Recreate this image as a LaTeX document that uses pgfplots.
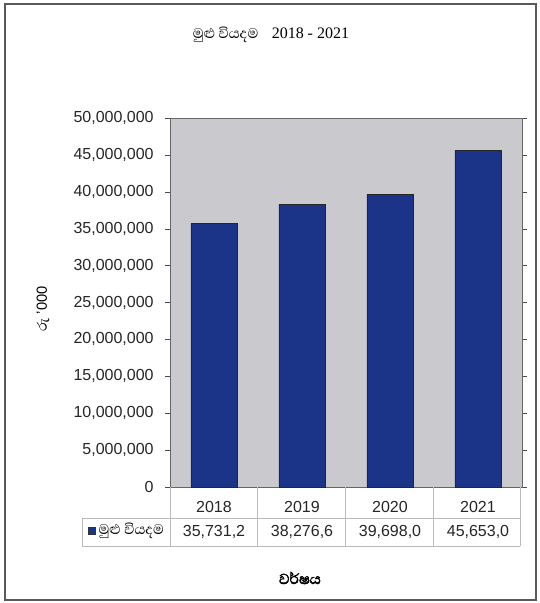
\documentclass[border=0pt]{standalone}
\usepackage{fontspec}
\usepackage{pgfplots}
\pgfplotsset{compat=1.18}
\setmainfont{Liberation Sans}
\newfontfamily\sinhalafont[Script=Sinhala]{Abhaya Libre}
\newfontfamily\sinhalabold[Script=Sinhala, FakeBold=2.5]{Abhaya Libre}
\newfontfamily\tmsfont{Liberation Serif}
\definecolor{barblue}{RGB}{28,52,135}
\definecolor{plotbg}{RGB}{202,202,206}
\definecolor{tblln}{RGB}{185,185,190}
\begin{document}
\begin{tikzpicture}
\begin{axis}[
  at={(0,0)}, anchor=south west, scale only axis,
  width=264pt, height=276.75pt,
  xmin=-0.5, xmax=3.5, ymin=0, ymax=50000000,
  ybar, bar width=34.5pt,
  clip=false,
  axis background/.style={fill=plotbg},
  axis line style={draw=black!60},
  ytick={0,5000000,10000000,15000000,20000000,25000000,30000000,35000000,40000000,45000000,50000000},
  scaled y ticks=false,
  /pgf/number format/fixed,
  /pgf/number format/1000 sep={,},
  /pgf/number format/assume math mode=true,
  tick label style={font=\fontsize{12}{14}\selectfont, text=black!85},
  yticklabel style={xshift=-5pt},
  tick align=outside, major tick length=3.75pt,
  ytick style={draw=black!70},
  xtick={0,1,2,3}, xticklabels={2018,2019,2020,2021},
  xtick style={draw=none},
  xticklabel style={anchor=center, yshift=-11.5pt},
]
\addplot[fill=barblue, draw=black!85] coordinates {(0,35731200) (1,38276600) (2,39698000) (3,45653000)};
\node[font=\fontsize{12}{14}\selectfont, text=black!85] at (axis cs:0,0) [yshift=-33.75pt] {35,731,2};
\node[font=\fontsize{12}{14}\selectfont, text=black!85] at (axis cs:1,0) [yshift=-33.75pt] {38,276,6};
\node[font=\fontsize{12}{14}\selectfont, text=black!85] at (axis cs:2,0) [yshift=-33.75pt] {39,698,0};
\node[font=\fontsize{12}{14}\selectfont, text=black!85] at (axis cs:3,0) [yshift=-33.75pt] {45,653,0};
\end{axis}
\begin{scope}[x=0.75pt,y=-0.75pt,shift={(-127.5pt,365.25pt)}]
  \path (0,0) rectangle (539,603);
  \draw[black!65, line width=1.2pt] (5,4) rectangle (536,600);
  \draw[tblln, line width=0.6pt] (170,487) -- (170,546)
     (257,487) -- (257,546) (345,487) -- (345,546) (433,487) -- (433,546)
     (520,487) -- (520,546) (82,518) -- (82,546)
     (82,518) -- (520,518) (82,546) -- (520,546);
  \filldraw[fill=barblue, draw=black!80, line width=0.4pt] (88,527) rectangle (95,534);
  \node[anchor=west, inner sep=1pt, font=\sinhalafont\fontsize{13.5}{15}\selectfont] at (97,531) {මුළු වියදම};
  \node at (271,35) {{\sinhalafont\fontsize{13.5}{15}\selectfont මුළු වියදම}\hspace{10pt}{\tmsfont\fontsize{12}{14}\selectfont 2018 - 2021}};
  \node[font=\sinhalabold\fontsize{14}{16}\selectfont] at (300,578) {වර්ෂය};
  \node[rotate=90, font=\fontsize{11}{13}\selectfont] at (43,309) {{\sinhalafont\fontsize{13}{15}\selectfont රු} '000};
\end{scope}
\end{tikzpicture}
\end{document}
